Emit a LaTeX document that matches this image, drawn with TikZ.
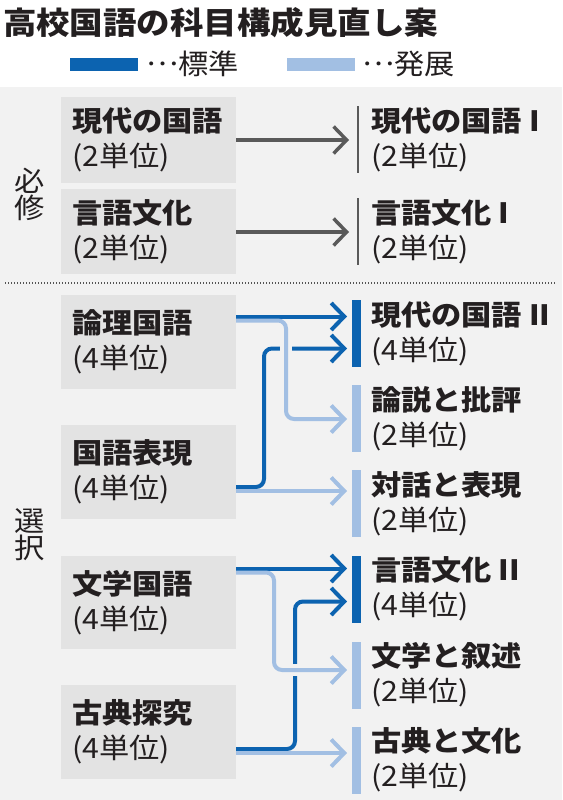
\documentclass[tikz,border=0pt]{standalone}
\usepackage{fontspec}
\usetikzlibrary{arrows.meta,positioning,calc}
\newfontfamily\jr{Noto Sans CJK JP}[FakeStretch=1.08]
\newcommand{\middots}{\raisebox{0.34em}{…}}
\definecolor{ink}{HTML}{231F20}
\definecolor{panel}{HTML}{F2F2F2}
\definecolor{boxgray}{HTML}{E3E3E3}
\definecolor{dkblue}{HTML}{0C63B0}
\definecolor{ltblue}{HTML}{A2BFE3}
\definecolor{gline}{HTML}{5A5A5A}
\definecolor{dotc}{HTML}{555555}
\tikzset{
  every node/.style={inner sep=0pt, outer sep=0pt, text=ink},
  box/.style={fill=boxgray, anchor=north west, minimum width=175pt, text width=153pt,
    inner xsep=11pt, align=left, font=\jr\fontsize{28}{35}\selectfont},
  rt/.style={align=left, font=\jr\fontsize{28}{35}\selectfont},
  vlabel/.style={align=center, font=\jr\fontsize{28}{27}\selectfont},
  legtext/.style={anchor=west, font=\jr\fontsize{28}{30}\selectfont},
  dbar/.style={fill=dkblue, minimum width=9pt, minimum height=67pt},
  lbar/.style={fill=ltblue, minimum width=9pt, minimum height=67pt},
  gbar/.style={fill=gline, minimum width=2pt, minimum height=67pt},
  chev/.style={-{Straight Barb[length=13pt,width=27pt]}},
  gyline/.style={draw=gline, line width=3.5pt, chev},
  dkline/.style={draw=dkblue, line width=4pt, rounded corners=8pt, chev},
  ltline/.style={draw=ltblue, line width=4pt, rounded corners=8pt, chev},
  casing/.style={draw=panel, line width=12pt},
  dotline/.style={draw=dotc, line width=1.2pt, dash pattern=on 1.2pt off 1.8pt},
}
\begin{document}
\begin{tikzpicture}[x=1pt,y=-1pt]
\useasboundingbox (0,0) rectangle (562,800);
\fill[white] (0,0) rectangle (562,800);
\fill[panel] (0,87) rectangle (562,800);

% title and legend
\node[anchor=base west, font=\jr\bfseries\fontsize{31}{36}\selectfont] (title) at (3,35) {高校国語の科目構成見直し案};
\node[fill=dkblue, minimum width=68pt, minimum height=13pt] (legd) at (104,64.5) {};
\node[legtext] (legdt) at (146,64) {\middots 標準};
\node[fill=ltblue, minimum width=68pt, minimum height=13pt] (legl) at (321,64.5) {};
\node[legtext] (leglt) at (362,64) {\middots 発展};

% section labels
\node[vlabel] (hisshu) at (30,194) {必\\修};
\node[vlabel] (sentaku) at (30,535) {選\\択};
\draw[dotline] (5,283) -- (556,283);

% left boxes
\node[box, minimum height=86pt] (b1) at (61,97) {{\bfseries 現代の国語}\\(2単位)};
\node[box, minimum height=85pt] (b2) at (61,189) {{\bfseries 言語文化}\\(2単位)};
\node[box, minimum height=94pt] (b3) at (61,295) {{\bfseries 論理国語}\\(4単位)};
\node[box, minimum height=94pt] (b4) at (61,425) {{\bfseries 国語表現}\\(4単位)};
\node[box, minimum height=93pt] (b5) at (61,556) {{\bfseries 文学国語}\\(4単位)};
\node[box, minimum height=94pt] (b6) at (61,685) {{\bfseries 古典探究}\\(4単位)};

% right bars
\node[gbar] (t1) at (358,139.5) {};
\node[gbar] (t2) at (358,231.5) {};
\node[dbar] (t3) at (356.5,333.5) {};
\node[lbar] (t4) at (356.5,418.5) {};
\node[lbar] (t5) at (356.5,503.5) {};
\node[dbar] (t6) at (356.5,589) {};
\node[lbar] (t7) at (356.5,675) {};
\node[lbar] (t8) at (356.5,760) {};

% right texts
\node[rt, right=12pt of t1] (r1) {{\bfseries 現代の国語 I}\\(2単位)};
\node[rt, right=12pt of t2] (r2) {{\bfseries 言語文化 I}\\(2単位)};
\node[rt, right=10pt of t3] (r3) {{\bfseries 現代の国語 II}\\(4単位)};
\node[rt, right=10pt of t4] (r4) {{\bfseries 論説と批評}\\(2単位)};
\node[rt, right=10pt of t5] (r5) {{\bfseries 対話と表現}\\(2単位)};
\node[rt, right=10pt of t6] (r6) {{\bfseries 言語文化 II}\\(4単位)};
\node[rt, right=10pt of t7] (r7) {{\bfseries 文学と叙述}\\(2単位)};
\node[rt, right=10pt of t8] (r8) {{\bfseries 古典と文化}\\(2単位)};

% arrow tips
\coordinate (t1a) at (349,140);
\coordinate (t2a) at (349,232);
\coordinate (t3a) at (347,316.5);
\coordinate (t3b) at (347,348.5);
\coordinate (t4a) at (347,419);
\coordinate (t5a) at (347,491);
\coordinate (t6a) at (347,568.5);
\coordinate (t6b) at (347,601.5);
\coordinate (t7a) at (347,670);
\coordinate (t8a) at (347,753);

% required
\draw[gyline] (b1.east |- t1a) -- (t1a);
\draw[gyline] (b2.east |- t2a) -- (t2a);

% elective: standard
\draw[dkline] (b3.east |- t3a) -- (t3a);
\draw[dkline] (b4.east |- 0,487) -| (264,348.5) -- (t3b);
\draw[dkline] (b5.east |- t6a) -- (t6a);
\draw[dkline] (b6.east |- 0,749) -| (295,601.5) -- (t6b);

% crossings
\draw[casing] (286,332) -- (286,407);
\draw[casing] (285,670) -- (332,670);

% elective: advanced
\draw[ltline] (b3.east |- 0,320.5) -| (286,419) -- (t4a);
\draw[ltline] (b4.east |- t5a) -- (t5a);
\draw[ltline] (b5.east |- 0,572.5) -| (274,670) -- (t7a);
\draw[ltline] (b6.east |- t8a) -- (t8a);
\end{tikzpicture}
\end{document}
